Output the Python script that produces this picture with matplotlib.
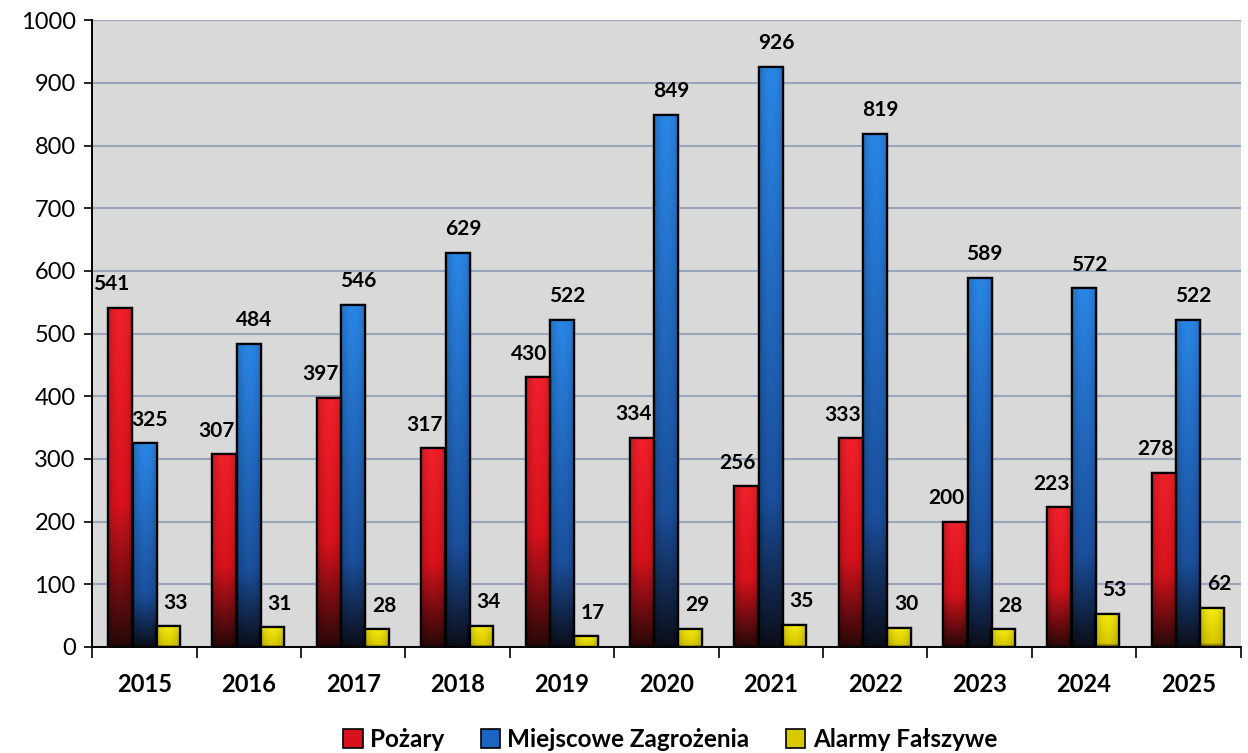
import numpy as np
import matplotlib
matplotlib.use("Agg")
import matplotlib.pyplot as plt
from matplotlib.patches import Patch

plt.rcParams['font.family'] = ['Lato', 'DejaVu Sans']

years = ['2015', '2016', '2017', '2018', '2019', '2020', '2021', '2022', '2023', '2024', '2025']
pozary = [541, 307, 397, 317, 430, 334, 256, 333, 200, 223, 278]
zagrozenia = [325, 484, 546, 629, 522, 849, 926, 819, 589, 572, 522]
falszywe = [33, 31, 28, 34, 17, 29, 35, 30, 28, 53, 62]
series_names = ['Pożary', 'Miejscowe Zagrożenia', 'Alarmy Fałszywe']


def bar_gradient(top, mid, bottom, mid_pos, nx=24, ny=64):
    # vertical gradient (top -> bottom) with a slight horizontal shading
    t = np.linspace(1, 0, ny)
    top, mid, bottom = [np.array(matplotlib.colors.to_rgb(c)) for c in (top, mid, bottom)]
    img = np.empty((ny, 1, 3))
    for i, v in enumerate(t):
        if v >= mid_pos:
            f = (v - mid_pos) / (1 - mid_pos)
            img[i, 0] = mid + (top - mid) * f
        else:
            f = v / mid_pos
            img[i, 0] = bottom + (mid - bottom) * f
    xs = np.linspace(-1, 1, nx)
    shade = 1.0 - 0.18 * xs ** 2
    img = img * shade[None, :, None]
    return np.clip(img, 0, 1)


grads = [
    bar_gradient('#f0202a', '#d8121c', '#2a0808', 0.42),
    bar_gradient('#2a86e6', '#1a4f9c', '#0c0f1c', 0.25),
    bar_gradient('#f5ea10', '#d8c800', '#5a5000', 0.1),
]
solid = ['#d8121c', '#1a64c4', '#d8c800']

fig = plt.figure(figsize=(12.48, 7.53), dpi=100)
ax = fig.add_axes([0.074, 0.141, 0.92, 0.832])
ax.set_facecolor('#d9d9d9')

x = np.arange(len(years))
w = 0.23
offsets = [-0.235, 0.0, 0.225]
label_dx = [-0.08, 0.05, 0.07]

for k, vals in enumerate([pozary, zagrozenia, falszywe]):
    bars = ax.bar(x + offsets[k], vals, width=w, color=solid[k], edgecolor='black',
                  linewidth=1.6, zorder=3)
    for b, v in zip(bars, vals):
        x0, wd, h = b.get_x(), b.get_width(), b.get_height()
        ax.imshow(grads[k], extent=[x0, x0 + wd, 0, h], aspect='auto', zorder=3.5,
                  interpolation='bilinear')
        ax.add_patch(plt.Rectangle((x0, 0), wd, h, fill=False, edgecolor='black',
                                   linewidth=1.6, zorder=4))
        ax.annotate(str(v), (x0 + wd / 2 + label_dx[k], h), xytext=(0, 17),
                    textcoords='offset points', ha='center', va='center',
                    fontsize=15, fontweight='bold', color='black', zorder=5)

ax.set_xlim(-0.5, len(years) - 0.5)
ax.set_ylim(0, 1000)
ax.set_yticks(range(0, 1001, 100))
ax.tick_params(axis='y', labelsize=17, length=6, width=1.2, direction='out', pad=6)
ax.set_xticks(x)
ax.set_xticklabels(years, fontsize=17, fontweight='bold')
ax.tick_params(axis='x', length=0, pad=19)
ax.set_xticks(np.arange(-0.5, len(years), 1), minor=True)
ax.tick_params(axis='x', which='minor', length=8, width=1.2, direction='out')
ax.grid(axis='y', color='#98a6bb', linewidth=1.5, zorder=0)
ax.set_axisbelow(True)
for s in ['top', 'right']:
    ax.spines[s].set_visible(False)
ax.spines['left'].set_linewidth(1.4)
ax.spines['bottom'].set_linewidth(1.4)

handles = [Patch(facecolor=solid[k], edgecolor='black', linewidth=1.2, label=series_names[k])
           for k in range(3)]
fig.legend(handles=handles, loc='center', bbox_to_anchor=(0.537, 0.018), ncol=3,
           frameon=False, handlelength=0.8, handleheight=0.8,
           handletextpad=0.3, columnspacing=1.5, prop={'weight': 'bold', 'size': 17.5})

fig.savefig('out.png', dpi=100)
